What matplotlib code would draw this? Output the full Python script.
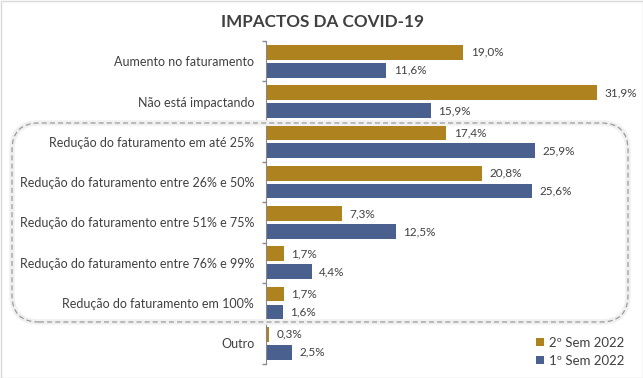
import matplotlib
matplotlib.use("Agg")
import matplotlib.pyplot as plt
from matplotlib.patches import FancyBboxPatch, Rectangle
from matplotlib.transforms import IdentityTransform
import numpy as np

# Chart data
categories = [
    "Aumento no faturamento",
    "Não está impactando",
    "Redução do faturamento em até 25%",
    "Redução do faturamento entre 26% e 50%",
    "Redução do faturamento entre 51% e 75%",
    "Redução do faturamento entre 76% e 99%",
    "Redução do faturamento em 100%",
    "Outro",
]
sem2_2022 = [19.0, 31.9, 17.4, 20.8, 7.3, 1.7, 1.7, 0.3]
sem1_2022 = [11.6, 15.9, 25.9, 25.6, 12.5, 4.4, 1.6, 2.5]
series_names = ["2º Sem 2022", "1º Sem 2022"]

gold = "#AF8220"
blue = "#4A608E"
text_col = "#404040"

plt.rcParams["font.family"] = ["Lato", "DejaVu Sans"]

fig = plt.figure(figsize=(6.43, 3.78), dpi=100)
ax = fig.add_axes([266 / 643, 1 - 363.5 / 378, (629 - 266) / 643, (363.5 - 41.1) / 378])

y = np.arange(len(categories))
off = 0.223
h = 0.365
b1 = ax.barh(y - off, sem2_2022, height=h, color=gold, label=series_names[0])
b2 = ax.barh(y + off, sem1_2022, height=h, color=blue, label=series_names[1])

for bars, vals in ((b1, sem2_2022), (b2, sem1_2022)):
    for rect, v in zip(bars, vals):
        ax.annotate(f"{v:.1f}%".replace(".", ","),
                    xy=(rect.get_width(), rect.get_y() + rect.get_height() / 2),
                    xytext=(5.5, 0), textcoords="offset points",
                    ha="left", va="center", fontsize=8.5, color=text_col)

ax.set_xlim(0, 35)
ax.set_ylim(len(categories) - 0.5, -0.5)
ax.set_yticks(y)
ax.set_yticklabels(categories, fontsize=9, color=text_col)
ax.tick_params(axis="y", which="major", length=0, pad=8.5)
ax.set_yticks(np.arange(-0.5, len(categories) + 0.5, 1), minor=True)
ax.tick_params(axis="y", which="minor", length=3, color="#888888", width=1)
ax.set_xticks([])
for s in ("top", "right", "bottom"):
    ax.spines[s].set_visible(False)
ax.spines["left"].set_color("#888888")

fig.text(322 / 643, 1 - 22 / 378, "IMPACTOS DA COVID-19", ha="center", va="center",
         fontsize=12.3, fontweight="bold", color=text_col)

ax.legend(loc="lower right", bbox_to_anchor=(630 / 643, 6 / 378), bbox_transform=fig.transFigure,
          frameon=False, fontsize=9.5, handlelength=0.6, handleheight=0.6, handletextpad=0.4,
          labelspacing=0.45, labelcolor=text_col, borderaxespad=0)

# dashed rounded box around the "Redução" group
shadow = FancyBboxPatch((12, 378 - 322), 616, 199, boxstyle="round,pad=0,rounding_size=27",
                        transform=IdentityTransform(), fill=False, edgecolor="#f0f0f0",
                        linewidth=4, zorder=0)
fig.patches.append(shadow)
box = FancyBboxPatch((12, 378 - 322), 616, 199, boxstyle="round,pad=0,rounding_size=27",
                     transform=IdentityTransform(), fill=False, edgecolor="#9a9a9a",
                     linewidth=0.9, linestyle=(0, (4, 2.5)), zorder=5)
fig.patches.append(box)

fig.patches.append(Rectangle((0.5, 0.5), 642, 377, transform=IdentityTransform(), fill=False,
                             edgecolor="#d9d9d9", linewidth=1))

fig.savefig("out.png", dpi=100)
